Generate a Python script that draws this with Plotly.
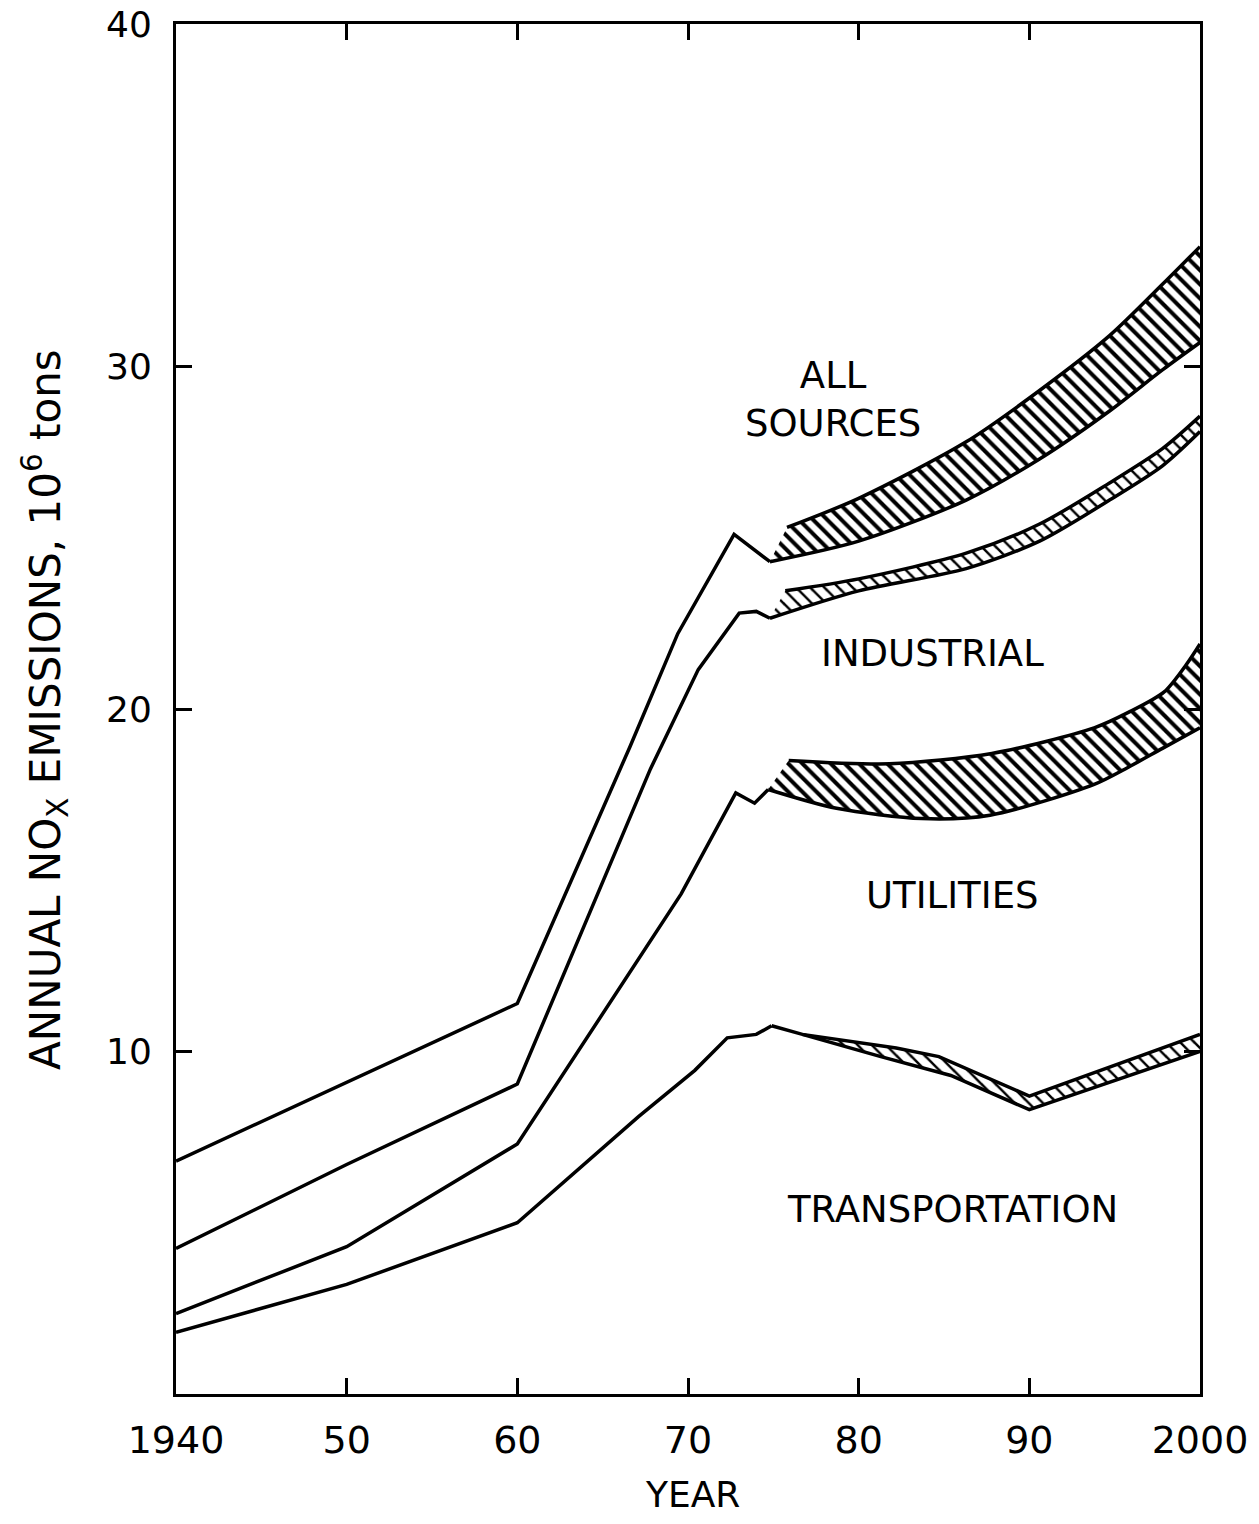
import plotly.graph_objects as go

# ---------------- data ----------------
# All sources
all_years = [1940, 1950, 1960, 1966.6, 1969.4, 1972.7, 1974.8]
all_vals = [6.8, 9.1, 11.4, 18.9, 22.2, 25.1, 24.3]
all_hi_years = [1975.8, 1980, 1986.3, 1990.6, 1994.7, 1997.8, 2000]
all_hi = [25.3, 26.15, 27.8, 29.3, 30.9, 32.4, 33.5]
all_lo_years = [1974.8, 1980, 1986.3, 1990.6, 1994.7, 1997.8, 2000]
all_lo = [24.3, 24.9, 26.1, 27.3, 28.7, 29.9, 30.7]

# Industrial (cumulative boundary)
ind_years = [1940, 1950, 1960, 1967.8, 1970.6, 1973.0, 1974.0, 1974.8]
ind_vals = [4.25, 6.7, 9.05, 18.25, 21.15, 22.8, 22.85, 22.65]
ind_hi_years = [1975.7, 1980, 1986.3, 1990.6, 1994.7, 1997.8, 2000]
ind_hi = [23.45, 23.8, 24.55, 25.4, 26.6, 27.6, 28.55]
ind_lo_years = [1974.8, 1980, 1986.3, 1990.6, 1994.7, 1997.8, 2000]
ind_lo = [22.65, 23.45, 24.1, 24.9, 26.1, 27.1, 28.1]

# Utilities (cumulative boundary)
utl_years = [1940, 1950, 1960, 1965.6, 1969.6, 1972.8, 1973.9, 1974.7]
utl_vals = [2.35, 4.3, 7.3, 11.55, 14.6, 17.55, 17.25, 17.65]
utl_hi_years = [1975.9, 1981.8, 1987.8, 1993.8, 1995.8, 1997.9, 1999.2, 2000]
utl_hi = [18.5, 18.4, 18.7, 19.45, 19.9, 20.5, 21.3, 21.9]
utl_lo_years = [1974.7, 1978.7, 1983.7, 1987.7, 1993.8, 1995.8, 1997.8, 2000]
utl_lo = [17.65, 17.1, 16.8, 16.9, 17.8, 18.3, 18.85, 19.45]

# Transportation
trn_years = [1940, 1950, 1960, 1967.1, 1970.4, 1972.3, 1974.0, 1974.9]
trn_vals = [1.8, 3.2, 5.0, 8.1, 9.45, 10.4, 10.5, 10.75]
trn_hi_years = [1974.9, 1976.7, 1982.2, 1984.7, 1990, 2000]
trn_hi = [10.75, 10.5, 10.1, 9.85, 8.7, 10.5]
trn_lo_years = [1976.7, 1981.3, 1985.4, 1990, 2000]
trn_lo = [10.5, 9.85, 9.3, 8.3, 10.0]

x_ticks = [1940, 1950, 1960, 1970, 1980, 1990, 2000]
x_labels = ["1940", "50", "60", "70", "80", "90", "2000"]
y_ticks = [10, 20, 30, 40]
y_labels = ["10", "20", "30", "40"]

labels = ["ALL<br>SOURCES", "INDUSTRIAL", "UTILITIES", "TRANSPORTATION"]
label_x = [1978.5, 1984.35, 1985.5, 1985.5]
label_y = [29.05, 21.63, 14.55, 5.39]

# ---------------- figure ----------------
FONT = "DejaVu Sans"
LW = 3.5
fig = go.Figure()


def add_line(x, y, shape="linear"):
    fig.add_trace(go.Scatter(x=x, y=y, mode="lines",
                             line=dict(color="black", width=LW, shape=shape),
                             hoverinfo="skip", showlegend=False))


def add_band(xlo, ylo, xhi, yhi, shape, psize, solid):
    fig.add_trace(go.Scatter(x=xlo, y=ylo, mode="lines",
                             line=dict(color="black", width=LW, shape=shape, smoothing=0.8),
                             hoverinfo="skip", showlegend=False))
    fig.add_trace(go.Scatter(x=xhi, y=yhi, mode="lines",
                             line=dict(color="black", width=LW, shape=shape, smoothing=0.8),
                             fill="tonexty", fillcolor="white",
                             fillpattern=dict(shape="\\", size=psize, solidity=solid,
                                              fgcolor="black", bgcolor="white",
                                              fillmode="replace"),
                             hoverinfo="skip", showlegend=False))


add_line(all_years, all_vals)
add_line(ind_years, ind_vals)
add_line(utl_years, utl_vals)
add_line(trn_years, trn_vals)

add_band(all_lo_years, all_lo, all_hi_years, all_hi, "spline", 10, 0.4)
add_band(ind_lo_years, ind_lo, ind_hi_years, ind_hi, "spline", 10, 0.25)
add_band(utl_lo_years, utl_lo, utl_hi_years, utl_hi, "spline", 10, 0.4)
add_band(trn_lo_years, trn_lo, trn_hi_years, trn_hi, "linear", 10, 0.25)

for t, xx, yy in zip(labels, label_x, label_y):
    fig.add_annotation(x=xx, y=yy, xref="x", yref="y", text=t, showarrow=False,
                       font=dict(family=FONT, size=37, color="black"),
                       xanchor="center", yanchor="middle")

fig.add_annotation(x=-0.128, y=0.5, xref="paper", yref="paper",
                   text="ANNUAL NO<sub>X</sub> EMISSIONS, 10<sup>6</sup> tons",
                   textangle=-90, showarrow=False,
                   font=dict(family=FONT, size=42, color="black"),
                   xanchor="center", yanchor="middle")
fig.add_annotation(x=0.504, y=-0.0735, xref="paper", yref="paper",
                   text="YEAR", showarrow=False,
                   font=dict(family=FONT, size=36, color="black"),
                   xanchor="center", yanchor="middle")

axis_common = dict(showline=True, linecolor="black", linewidth=3, mirror="ticks",
                   ticks="inside", ticklen=16, tickwidth=3, tickcolor="black",
                   showgrid=False, zeroline=False, automargin=False,
                   ticklabeloverflow="allow")

fig.update_xaxes(range=[1940, 2000], tickvals=x_ticks, ticktext=x_labels,
                 ticklabelstandoff=10,
                 tickfont=dict(family=FONT, size=38, color="black"), **axis_common)
fig.update_yaxes(range=[0, 40], tickvals=y_ticks, ticktext=y_labels,
                 ticklabelstandoff=14,
                 tickfont=dict(family=FONT, size=36, color="black"), **axis_common)

fig.update_layout(width=1259, height=1524,
                  margin=dict(l=176, r=59, t=24, b=130, autoexpand=False),
                  paper_bgcolor="white", plot_bgcolor="white",
                  showlegend=False)

# remove the browser's default 8 px body margin so the figure fills the window exactly
fig.write_html("out.html", config={"displayModeBar": False},
               post_script="document.body.style.margin='0';")
